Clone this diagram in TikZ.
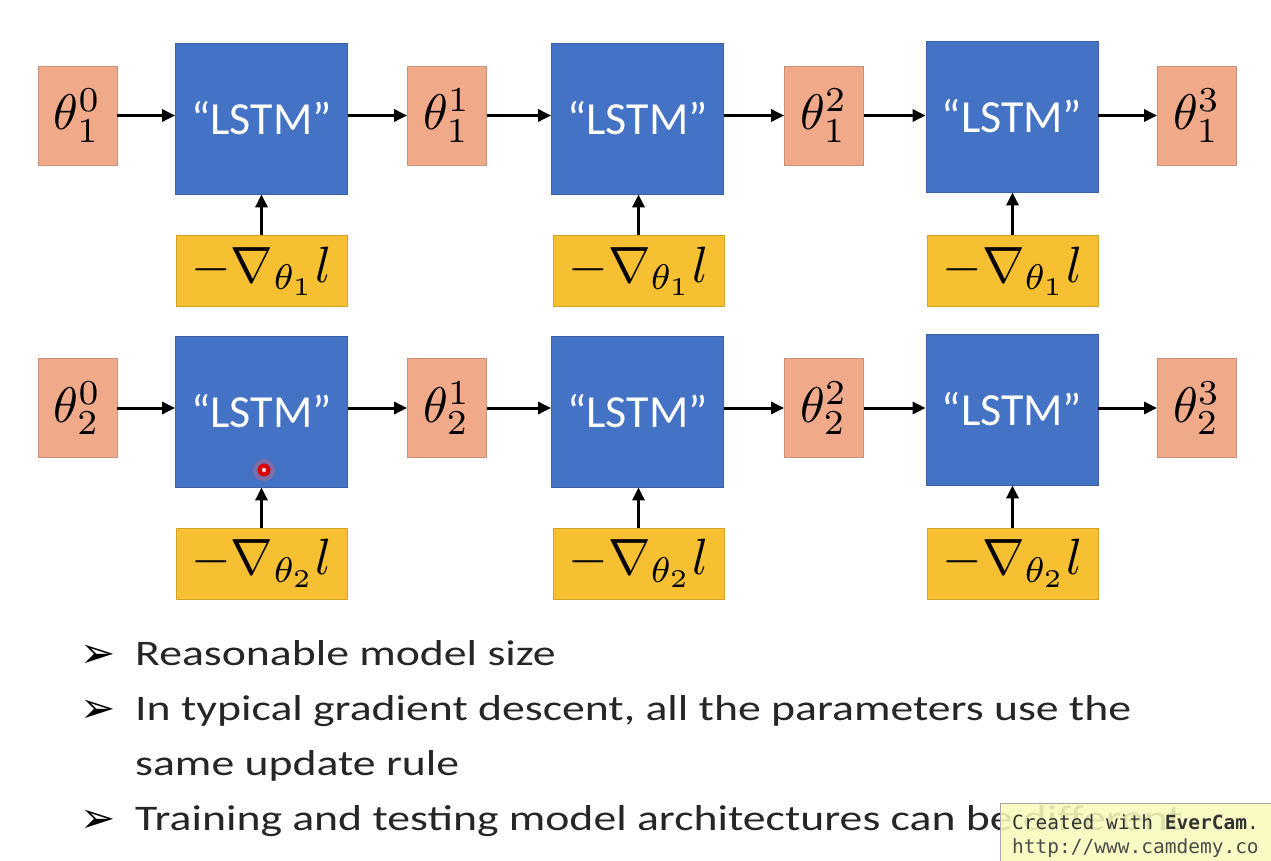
\documentclass[tikz,border=0pt]{standalone}
\usepackage{graphicx}
\usepackage{fontspec}
\setmainfont{Carlito}
\newfontfamily\widefont[FakeStretch=1.27]{Carlito}
\newfontfamily\dejavu{DejaVu Sans}
\newfontfamily\monof{DejaVu Sans Mono}
\usetikzlibrary{arrows.meta}
\definecolor{lstmblue}{RGB}{68,114,196}
\definecolor{peach}{RGB}{240,170,138}
\definecolor{gold}{RGB}{246,192,50}
\definecolor{wmyellow}{RGB}{250,250,190}
\newcommand{\pmath}[1]{\scalebox{5}{\normalsize$#1$}}
\newcommand{\gmath}[1]{\scalebox{5.1}{\normalsize$#1$}}
\tikzset{
  lstm/.style={fill=lstmblue, draw=lstmblue!85!black, line width=0.8pt, minimum width=172pt, minimum height=151pt, inner sep=0pt, text=white, font=\fontsize{46}{52}\selectfont},
  param/.style={fill=peach, draw=peach!85!black, line width=0.8pt, minimum width=79pt, minimum height=99pt, inner sep=0pt},
  grad/.style={fill=gold, draw=gold!85!black, line width=0.8pt, minimum width=171pt, minimum height=71pt, inner sep=0pt},
  flow/.style={-{Triangle[length=13pt,width=12pt]}, line width=3pt, black},
  bullettext/.style={anchor=base west, inner sep=0pt, font=\widefont\fontsize{36}{44}\selectfont, text=black!85},
  bulletmark/.style={anchor=base west, inner sep=0pt, font=\dejavu\fontsize{42}{44}\selectfont}
}
\begin{document}
\begin{tikzpicture}[x=1pt,y=-1pt]
\useasboundingbox[fill=white] (0,0) rectangle (1271,861);
% row 1
\node[param] (p10) at (77.5,115.5) {\pmath{\theta_1^0}};
\node[lstm]  (l11) at (261.5,118.5) {“LSTM”};
\node[param] (p11) at (447,115.5) {\pmath{\theta_1^1}};
\node[lstm]  (l12) at (637.5,118.5) {“LSTM”};
\node[param] (p12) at (824,115.5) {\pmath{\theta_1^2}};
\node[lstm]  (l13) at (1012,116.5) {“LSTM”};
\node[param] (p13) at (1197,115.5) {\pmath{\theta_1^3}};
\node[grad] (g11) at (261.5,271) {\gmath{-\nabla_{\theta_1} l}};
\node[grad] (g12) at (638.5,271) {\gmath{-\nabla_{\theta_1} l}};
\node[grad] (g13) at (1012.5,271) {\gmath{-\nabla_{\theta_1} l}};
% row 2
\node[param] (p20) at (77.5,408) {\pmath{\theta_2^0}};
\node[lstm]  (l21) at (261.5,411.5) {“LSTM”};
\node[param] (p21) at (447,408) {\pmath{\theta_2^1}};
\node[lstm]  (l22) at (637.5,411.5) {“LSTM”};
\node[param] (p22) at (824,408) {\pmath{\theta_2^2}};
\node[lstm]  (l23) at (1012,409.5) {“LSTM”};
\node[param] (p23) at (1197,408) {\pmath{\theta_2^3}};
\node[grad] (g21) at (261.5,563.5) {\gmath{-\nabla_{\theta_2} l}};
\node[grad] (g22) at (638.5,563.5) {\gmath{-\nabla_{\theta_2} l}};
\node[grad] (g23) at (1012.5,563.5) {\gmath{-\nabla_{\theta_2} l}};
% horizontal arrows
\foreach \r in {1,2}{
  \draw[flow] (p\r0.east) -- (p\r0.east -| l\r1.west);
  \draw[flow] (l\r1.east |- p\r1.west) -- (p\r1.west);
  \draw[flow] (p\r1.east) -- (p\r1.east -| l\r2.west);
  \draw[flow] (l\r2.east |- p\r2.west) -- (p\r2.west);
  \draw[flow] (p\r2.east) -- (p\r2.east -| l\r3.west);
  \draw[flow] (l\r3.east |- p\r3.west) -- (p\r3.west);
  \foreach \c in {1,2,3}{
    \draw[flow] (g\r\c.north) -- (g\r\c.north |- l\r\c.south);
  }
}
% laser pointer dot
\fill[red!60, opacity=0.3] (264,470) circle (11pt);
\fill[red!85!black] (264,470) circle (6.5pt);
\fill[white!80!red] (264,470) circle (2.2pt);
% bullets
\node[bulletmark] (b1) at (80,667) {➢};
\node[bullettext] (t1) at (135,665) {Reasonable model size};
\node[bulletmark] (b2) at (80,722) {➢};
\node[bullettext] (t2) at (135,720) {In typical gradient descent, all the parameters use the};
\node[bullettext] (t3) at (135,775) {same update rule};
\node[bulletmark] (b4) at (80,832) {➢};
\node[bullettext] (t4) at (135,830) {Training and testing model architectures can be different};
% watermark
\node[fill=wmyellow, fill opacity=0.88, draw=gray!70, line width=0.8pt, anchor=north west, minimum width=275pt, minimum height=60pt, inner sep=0pt] (wm) at (1000,803) {};
\node[anchor=base west, inner sep=0pt, font=\monof\fontsize{19.5}{22}\selectfont, text=black!80] (wm1) at (1012,829) {Created with \textbf{EverCam}.};
\node[anchor=base west, inner sep=0pt, font=\monof\fontsize{19.5}{22}\selectfont, text=black!70] (wm2) at (1012,853) {http://www.camdemy.co};
\end{tikzpicture}
\end{document}
